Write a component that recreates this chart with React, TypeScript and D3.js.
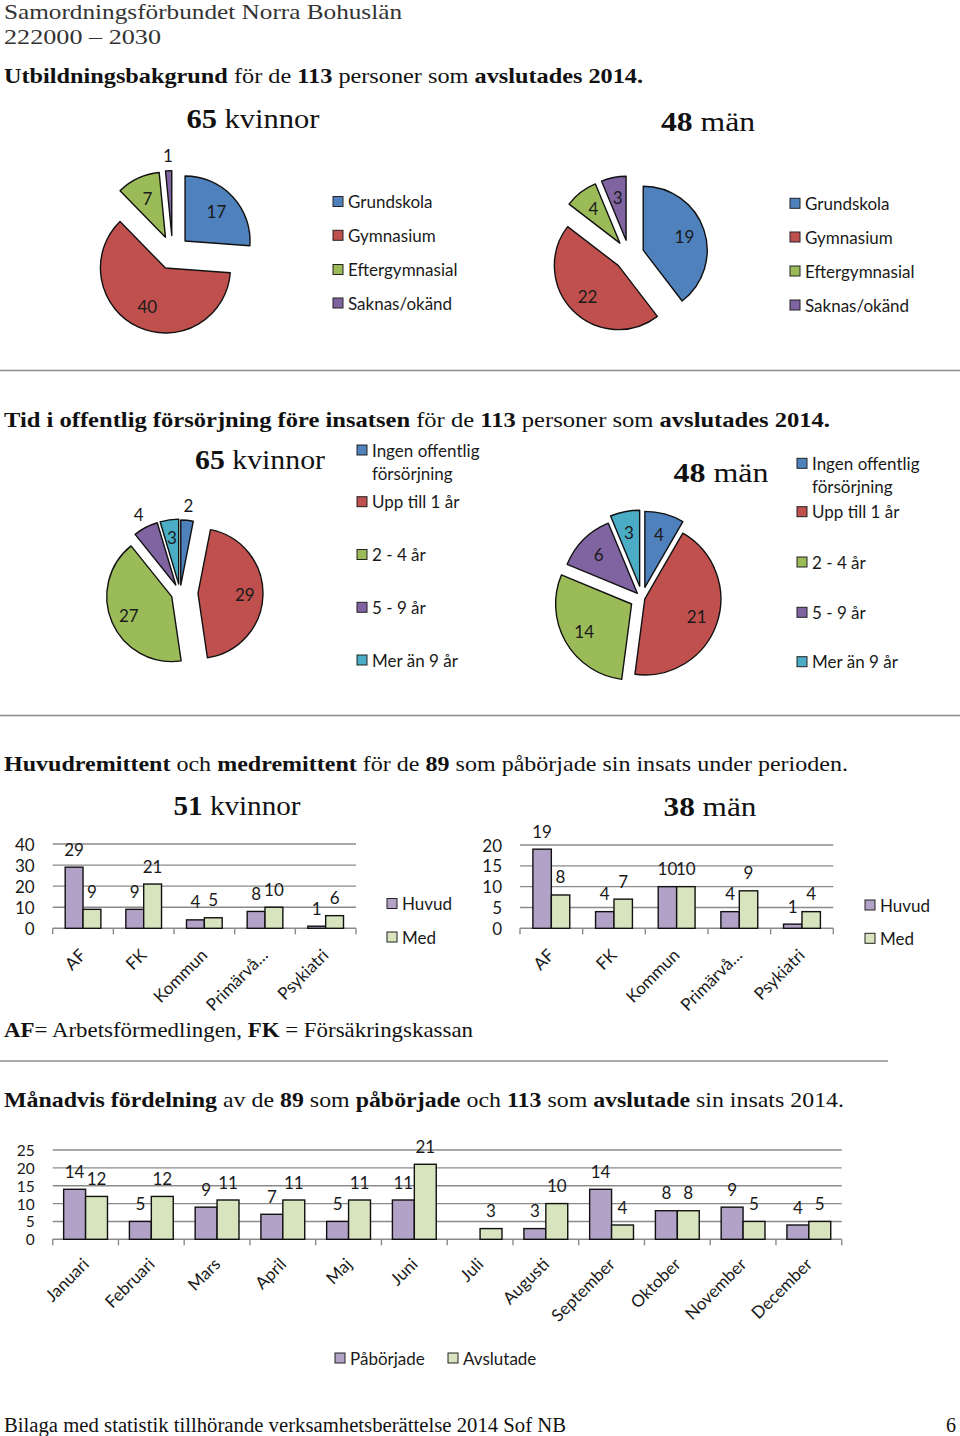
import React from "react";
import * as d3 from "d3";

// ---------- DATA ----------
const eduCategories = ["Grundskola", "Gymnasium", "Eftergymnasial", "Saknas/okänd"];
const eduWomen = [17, 40, 7, 1];
const eduMen = [19, 22, 4, 3];

const timeCategories = [["Ingen offentlig", "försörjning"], ["Upp till 1 år"], ["2 - 4 år"], ["5 - 9 år"], ["Mer än 9 år"]];
const timeWomen = [2, 29, 27, 4, 3];
const timeMen = [4, 21, 14, 6, 3];

const remitCategories = ["AF", "FK", "Kommun", "Primärvå…", "Psykiatri"];
const remitSeries = ["Huvud", "Med"];
const remitWomenHuvud = [29, 9, 4, 8, 1];
const remitWomenMed = [9, 21, 5, 10, 6];
const remitMenHuvud = [19, 4, 10, 4, 1];
const remitMenMed = [8, 7, 10, 9, 4];
const womenTicks = [0, 10, 20, 30, 40];
const menTicks = [0, 5, 10, 15, 20];

const months = ["Januari", "Februari", "Mars", "April", "Maj", "Juni", "Juli", "Augusti", "September", "Oktober", "November", "December"];
const monthSeries = ["Påbörjade", "Avslutade"];
const startedByMonth: (number | null)[] = [14, 5, 9, 7, 5, 11, null, 3, 14, 8, 9, 4];
const finishedByMonth: (number | null)[] = [12, 12, 11, 11, 11, 21, 3, 10, 4, 8, 5, 5];
const monthTicks = [0, 5, 10, 15, 20, 25];

// ---------- STYLE ----------
const pieColors = ["#4F81BD", "#C0504D", "#9BBB59", "#8064A2", "#4BACC6"];
const barColors = ["#B3A2C7", "#D7E4BD"];
const SANS = "Lato, 'Open Sans', sans-serif";
const SERIF = "'Liberation Serif', 'DejaVu Serif', Georgia, serif";
const FS = 17;
const gridColor = "#8a8a8a";

type PieProps = {
  values: number[];
  cx: number;
  cy: number;
  r: number;
  explode: number[];
  outside: boolean[];
  labelIn?: number;
  labelOut?: number;
};

function Pie({ values, cx, cy, r, explode, outside, labelIn = 0.66, labelOut = 1.23 }: PieProps) {
  const arcs = d3.pie<number>().sort(null).value((d) => d)(values);
  const arcGen = d3.arc<d3.PieArcDatum<number>>().innerRadius(0).outerRadius(r);
  return (
    <g>
      {arcs.map((a, i) => {
        const mid = (a.startAngle + a.endAngle) / 2;
        const dx = Math.sin(mid);
        const dy = -Math.cos(mid);
        const ox = cx + dx * explode[i];
        const oy = cy + dy * explode[i];
        const lr = (outside[i] ? labelOut : labelIn) * r;
        return (
          <g key={i}>
            <path
              d={arcGen(a) || ""}
              transform={`translate(${ox},${oy})`}
              fill={pieColors[i]}
              stroke="#111"
              strokeWidth={1.4}
              strokeLinejoin="round"
            />
            <text
              x={ox + dx * lr}
              y={oy + dy * lr}
              textAnchor="middle"
              dominantBaseline="central"
              fontFamily={SANS}
              fontSize={FS}
              fill="#1a1a1a"
            >
              {values[i]}
            </text>
          </g>
        );
      })}
    </g>
  );
}

type LegendProps = {
  items: string[][];
  colors: string[];
  x: number;
  rowY: number[];
  lineH?: number;
};

function Legend({ items, colors, x, rowY, lineH = 23 }: LegendProps) {
  return (
    <g fontFamily={SANS} fontSize={FS} fill="#1a1a1a">
      {items.map((lines, i) => (
        <g key={i}>
          <rect x={x} y={rowY[i] - 5} width={10} height={10} fill={colors[i]} stroke="#222" strokeWidth={1} />
          {lines.map((t, j) => (
            <text key={j} x={x + 15} y={rowY[i] + j * lineH} dominantBaseline="central">
              {t}
            </text>
          ))}
        </g>
      ))}
    </g>
  );
}

type BarProps = {
  categories: string[];
  series: (number | null)[][];
  x0: number;
  x1: number;
  yBase: number;
  yTop: number;
  ticks: number[];
  gap: number;
  labelDx: number;
  labelDy: number;
  tickFont?: number;
};

function BarChart({ categories, series, x0, x1, yBase, yTop, ticks, gap, labelDx, labelDy, tickFont = FS }: BarProps) {
  const x = d3.scaleBand<string>().domain(categories).range([x0, x1]).paddingInner(0).paddingOuter(0);
  const y = d3.scaleLinear().domain([0, ticks[ticks.length - 1]]).range([yBase, yTop]);
  const band = x.bandwidth();
  const bw = band / (series.length + gap);
  return (
    <g fontFamily={SANS} fontSize={FS} fill="#1a1a1a">
      {ticks.map((t) => (
        <g key={t}>
          <line x1={x0} x2={x1} y1={y(t)} y2={y(t)} stroke={gridColor} strokeWidth={1.4} />
          <text x={x0 - 18} y={y(t)} textAnchor="end" dominantBaseline="central" fontSize={tickFont}>
            {t}
          </text>
        </g>
      ))}
      {d3.range(categories.length + 1).map((k) => (
        <line key={k} x1={x0 + k * band} x2={x0 + k * band} y1={yBase} y2={yBase + 6} stroke={gridColor} strokeWidth={1.4} />
      ))}
      {categories.map((c, ci) => {
        const start = (x(c) as number) + band / 2 - (bw * series.length) / 2;
        return (
          <g key={c}>
            {series.map((s, si) => {
              const v = s[ci];
              if (v === null || v === undefined) return null;
              const bx = start + si * bw;
              return (
                <g key={si}>
                  <rect x={bx} y={y(v)} width={bw} height={yBase - y(v)} fill={barColors[si]} stroke="#111" strokeWidth={1.4} />
                  <text x={bx + bw / 2} y={y(v) - 18} textAnchor="middle" dominantBaseline="central">
                    {v}
                  </text>
                </g>
              );
            })}
            <text
              transform={`translate(${(x(c) as number) + band / 2 + labelDx},${yBase + labelDy}) rotate(-45)`}
              textAnchor="end"
            >
              {c}
            </text>
          </g>
        );
      })}
    </g>
  );
}

function Title({ x, y, bold, rest, len, size = 28 }: { x: number; y: number; bold: string; rest: string; len: number; size?: number }) {
  return (
    <text x={x} y={y} textAnchor="middle" fontFamily={SERIF} fontSize={size} fill="#111" textLength={len} lengthAdjust="spacingAndGlyphs">
      <tspan fontWeight="bold">{bold}</tspan>
      <tspan>{rest}</tspan>
    </text>
  );
}

function Heading({ y, parts, len, size = 21.5 }: { y: number; parts: [string, boolean][]; len: number; size?: number }) {
  return (
    <text x={4} y={y} fontFamily={SERIF} fontSize={size} fill="#111" textLength={len} lengthAdjust="spacingAndGlyphs">
      {parts.map(([t, b], i) => (
        <tspan key={i} fontWeight={b ? "bold" : "normal"}>
          {t}
        </tspan>
      ))}
    </text>
  );
}

export default function App() {
  const eduItems = eduCategories.map((c) => [c]);
  return (
    <svg width={960} height={1436} style={{ position: "absolute", left: 0, top: 0, background: "#fff" }}>
      <rect width={960} height={1436} fill="#fff" />
      {/* Header */}
      <text x={4} y={19} fontFamily={SERIF} fontSize={22} fill="#333" textLength={398} lengthAdjust="spacingAndGlyphs">
        Samordningsförbundet Norra Bohuslän
      </text>
      <text x={4} y={44} fontFamily={SERIF} fontSize={22} fill="#333" textLength={157} lengthAdjust="spacingAndGlyphs">
        222000 – 2030
      </text>

      {/* Section 1 */}
      <Heading
        y={83}
        len={639}
        parts={[
          ["Utbildningsbakgrund", true],
          [" för de ", false],
          ["113", true],
          [" personer som ", false],
          ["avslutades 2014.", true],
        ]}
      />
      <Title x={253} y={128} bold="65" rest=" kvinnor" len={133} />
      <Title x={708} y={131} bold="48" rest=" män" len={94} />
      <Pie values={eduWomen} cx={172.6} cy={252.6} r={65} explode={[17, 17, 17, 17]} outside={[false, false, false, true]} />
      <Legend items={eduItems} colors={pieColors} x={333} rowY={[201.5, 235.3, 269.5, 303]} />
      <Pie values={eduMen} cx={629} cy={255} r={64} explode={[15, 15, 15, 15]} outside={[false, false, false, false]} labelIn={0.68} />
      <Legend items={eduItems} colors={pieColors} x={790} rowY={[203.3, 237, 271, 305]} />
      <line x1={0} x2={960} y1={370.5} y2={370.5} stroke="#8c8c8c" strokeWidth={1.5} />

      {/* Section 2 */}
      <Heading
        y={427}
        len={826}
        parts={[
          ["Tid i offentlig försörjning före insatsen", true],
          [" för de ", false],
          ["113", true],
          [" personer som ", false],
          ["avslutades 2014.", true],
        ]}
      />
      <Title x={260} y={469} bold="65" rest=" kvinnor" len={130} />
      <Title x={721} y={482} bold="48" rest=" män" len={95} />
      <Pie values={timeWomen} cx={180} cy={593} r={65} explode={[8, 18, 9, 9, 9]} outside={[true, false, false, true, false]} labelIn={0.72} />
      <Legend items={timeCategories} colors={pieColors} x={357} rowY={[450, 501.7, 554.5, 607.3, 660]} />
      <Pie values={timeMen} cx={642} cy={598} r={76} explode={[11, 3, 12, 6.5, 12]} outside={[false, false, false, false, false]} labelIn={0.72} />
      <Legend items={timeCategories} colors={pieColors} x={797} rowY={[463.3, 511.7, 562, 612.3, 661.7]} />
      <line x1={0} x2={960} y1={715.5} y2={715.5} stroke="#8c8c8c" strokeWidth={1.5} />

      {/* Section 3 */}
      <Heading
        y={771}
        len={844}
        parts={[
          ["Huvudremittent", true],
          [" och ", false],
          ["medremittent", true],
          [" för de ", false],
          ["89", true],
          [" som påbörjade sin insats under perioden.", false],
        ]}
      />
      <Title x={237} y={815} bold="51" rest=" kvinnor" len={127} />
      <Title x={710} y={816} bold="38" rest=" män" len={93} />
      <BarChart
        categories={remitCategories}
        series={[remitWomenHuvud, remitWomenMed]}
        x0={52.7}
        x1={356}
        yBase={928.3}
        yTop={844}
        ticks={womenTicks}
        gap={1.4}
        labelDx={4}
        labelDy={28}
      />
      <Legend items={remitSeries.map((s) => [s])} colors={barColors} x={387} rowY={[903.5, 937]} />
      <BarChart
        categories={remitCategories}
        series={[remitMenHuvud, remitMenMed]}
        x0={520}
        x1={833.3}
        yBase={928.3}
        yTop={845}
        ticks={menTicks}
        gap={1.4}
        labelDx={4}
        labelDy={28}
      />
      <Legend items={remitSeries.map((s) => [s])} colors={barColors} x={865} rowY={[905, 938.3]} />
      <Heading
        y={1037}
        len={469}
        parts={[
          ["AF", true],
          ["= Arbetsförmedlingen, ", false],
          ["FK", true],
          [" = Försäkringskassan", false],
        ]}
      />
      <line x1={0} x2={888} y1={1061} y2={1061} stroke="#8c8c8c" strokeWidth={1.5} />

      {/* Section 4 */}
      <Heading
        y={1107}
        len={840}
        parts={[
          ["Månadvis fördelning", true],
          [" av de ", false],
          ["89", true],
          [" som ", false],
          ["påbörjade", true],
          [" och ", false],
          ["113", true],
          [" som ", false],
          ["avslutade", true],
          [" sin insats 2014.", false],
        ]}
      />
      <BarChart
        categories={months}
        series={[startedByMonth, finishedByMonth]}
        x0={52.7}
        x1={841.7}
        yBase={1239.3}
        yTop={1150}
        ticks={monthTicks}
        gap={1.0}
        labelDx={4.5}
        labelDy={26}
        tickFont={15.5}
      />
      <Legend items={monthSeries.slice(0, 1).map((s) => [s])} colors={barColors} x={335} rowY={[1358]} />
      <Legend items={monthSeries.slice(1).map((s) => [s])} colors={barColors.slice(1)} x={448} rowY={[1358]} />

      {/* Footer */}
      <text x={4} y={1432} fontFamily={SERIF} fontSize={20} fill="#111" textLength={562} lengthAdjust="spacingAndGlyphs">
        Bilaga med statistik tillhörande verksamhetsberättelse 2014 Sof NB
      </text>
      <text x={956} y={1432} textAnchor="end" fontFamily={SERIF} fontSize={20} fill="#111">
        6
      </text>
    </svg>
  );
}
